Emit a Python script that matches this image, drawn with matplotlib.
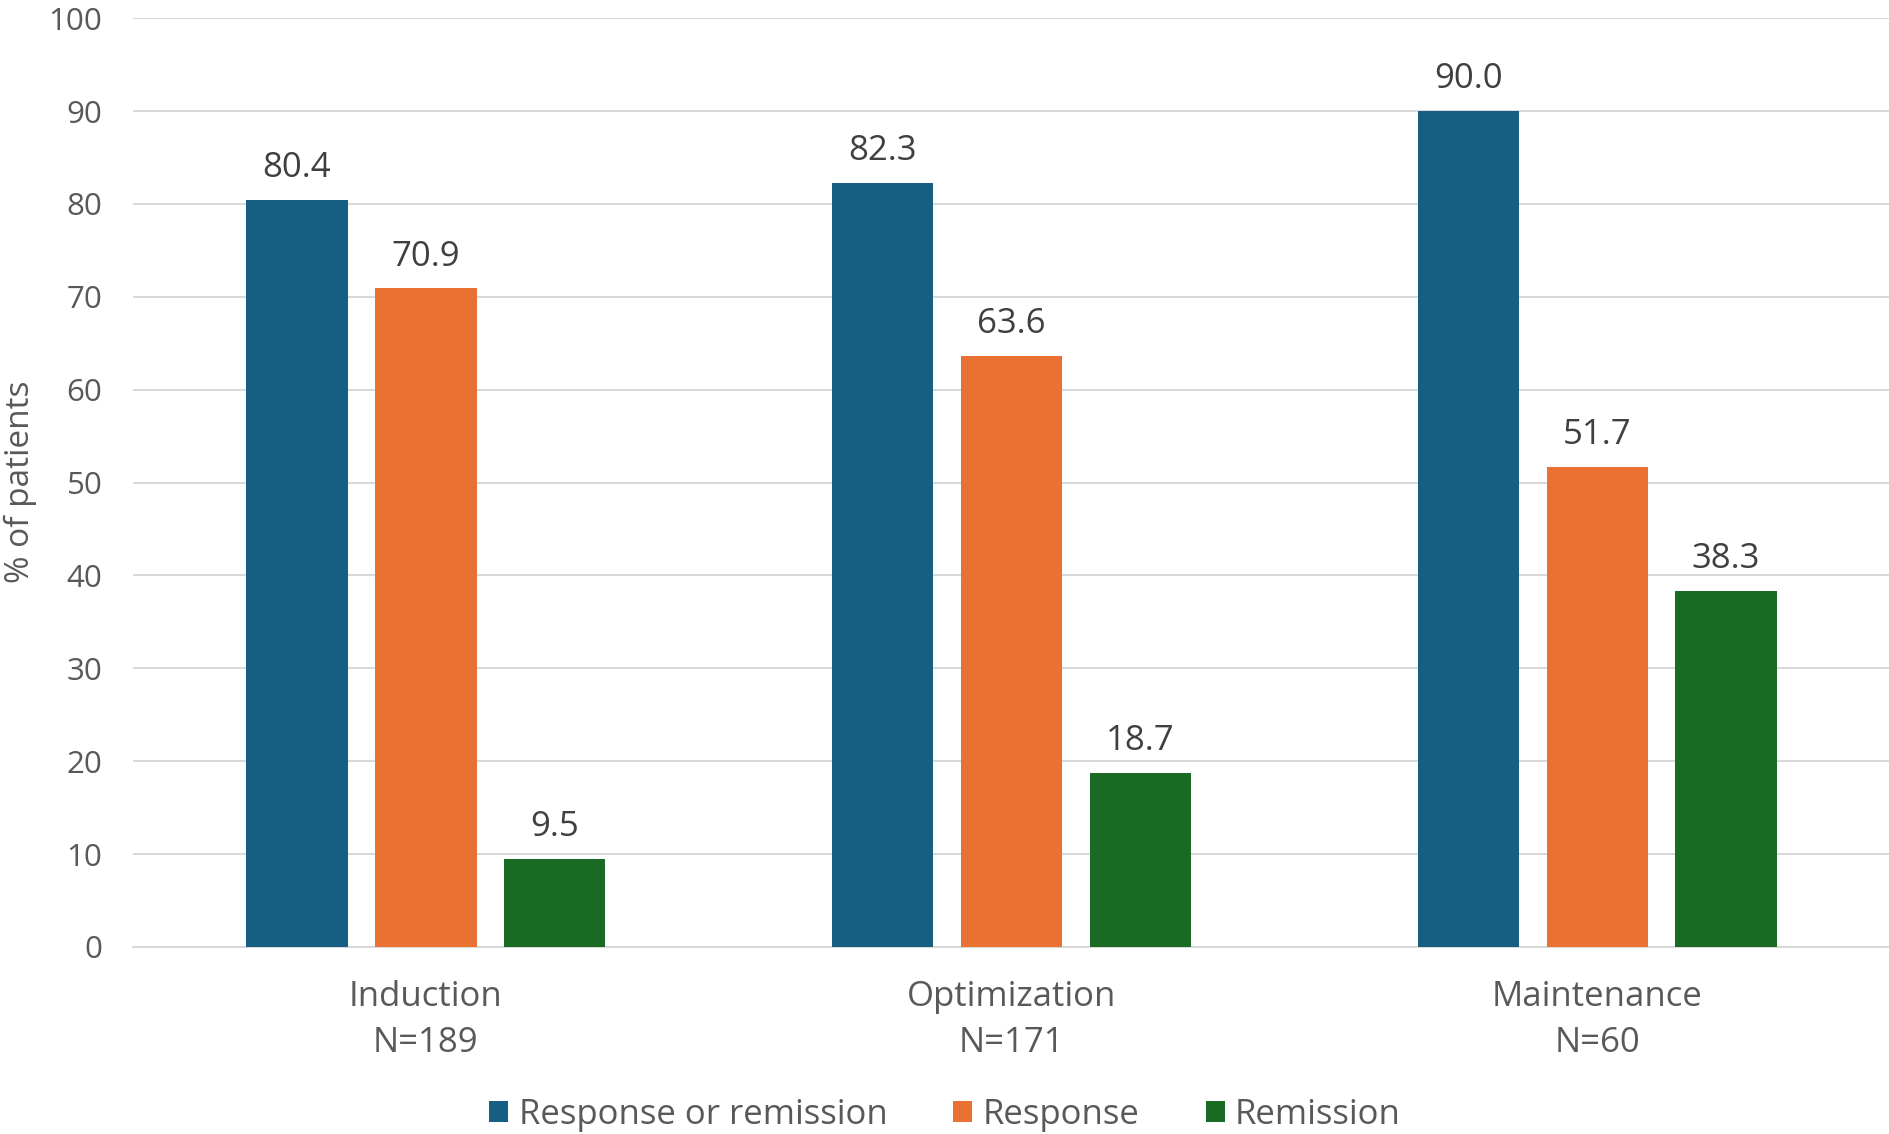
import matplotlib
matplotlib.use("Agg")
import matplotlib.pyplot as plt
import numpy as np

categories = ["Induction\nN=189", "Optimization\nN=171", "Maintenance\nN=60"]
series_names = ["Response or remission", "Response", "Remission"]
resp_or_rem = [80.4, 82.3, 90.0]
response = [70.9, 63.6, 51.7]
remission = [9.5, 18.7, 38.3]
colors = ["#156082", "#E97132", "#196B24"]
yticks = [0, 10, 20, 30, 40, 50, 60, 70, 80, 90, 100]

plt.rcParams['font.family'] = ['Open Sans', 'DejaVu Sans']
txt = "#595959"

fig = plt.figure(figsize=(18.9, 11.34), dpi=100)
ax = fig.add_axes([0.0704, 0.165, 0.9296, 0.819])

x = np.arange(len(categories))
w = 0.173
step = 0.22
for i, (vals, name, c) in enumerate(zip([resp_or_rem, response, remission], series_names, colors)):
    pos = x + (i - 1) * step
    bars = ax.bar(pos, vals, width=w, color=c, label=name, zorder=3)
    for b, v in zip(bars, vals):
        ax.text(b.get_x() + b.get_width() / 2, v + 1.6, f"{v:.1f}", ha="center", va="bottom",
                fontsize=25, color="#404040")

ax.set_xlim(-0.5, 2.5)
ax.set_ylim(0, 100)
ax.set_yticks(yticks)
ax.set_xticks(x)
ax.set_xticklabels(categories, fontsize=25, color=txt, linespacing=1.45)
ax.tick_params(axis="y", labelsize=22.5, labelcolor=txt, length=0, pad=22)
ax.tick_params(axis="x", length=0, pad=24)
ax.yaxis.grid(True, color="#D9D9D9", linewidth=1.5, zorder=0)
for s in ["top", "right", "left"]:
    ax.spines[s].set_visible(False)
ax.spines["bottom"].set_color("#D9D9D9")
ax.spines["bottom"].set_linewidth(1.5)
fig.text(20 / 1890, 0.575, "% of patients", rotation=90, fontsize=24, color=txt,
         ha="center", va="center")

leg = fig.legend(loc="lower center", bbox_to_anchor=(0.5, -0.026), ncol=3, frameon=False,
                 fontsize=25, handlelength=0.55, handleheight=0.55, handletextpad=0.3,
                 columnspacing=1.9, labelcolor=txt)

fig.savefig("out.png", dpi=100)
